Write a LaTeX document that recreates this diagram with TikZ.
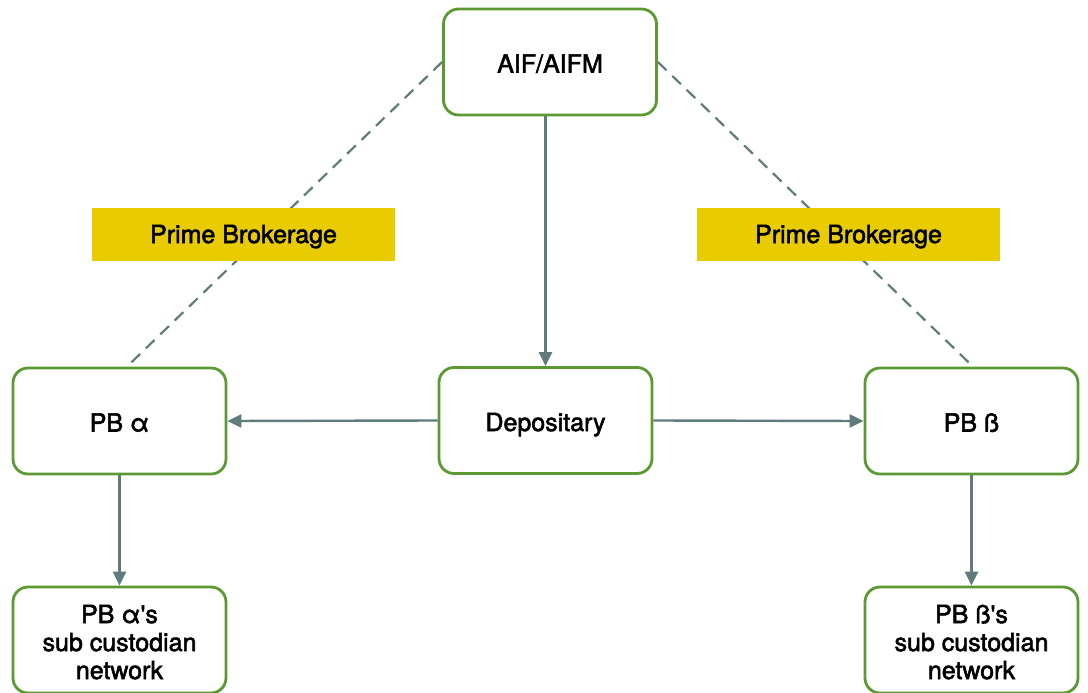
\documentclass[tikz,border=0pt]{standalone}
\usepackage{fontspec}
\setmainfont{TeX Gyre Heros}
\newfontfamily\medfont{TeX Gyre Heros}[FakeBold=2.2]
\usetikzlibrary{arrows.meta}
\definecolor{boxgreen}{HTML}{5B9A32}
\definecolor{arrowgray}{HTML}{5F7B7B}
\definecolor{pbyellow}{HTML}{E8CB00}
\newcommand{\topstrut}{\rule{0pt}{28pt}}
\newcommand{\botstrut}{\rule[-6pt]{0pt}{6pt}}
\begin{document}
\begin{tikzpicture}[x=1pt,y=-1pt,
  box/.style={draw=boxgreen,line width=2.8pt,rounded corners=15pt,fill=white,
    minimum width=213pt,minimum height=106pt,inner sep=0pt,align=center,
    font=\medfont\fontsize{25}{28}\selectfont},
  onebox/.style={box,text height=27pt,text depth=6pt},
  tag/.style={fill=pbyellow,minimum width=303pt,minimum height=53pt,inner sep=0pt,
    text height=23pt,text depth=6pt,
    font=\medfont\fontsize{25}{28}\selectfont},
  conn/.style={draw=arrowgray,line width=2.4pt,-{Triangle[length=14pt,width=13pt]}},
  dashconn/.style={draw=arrowgray,line width=2.2pt,dash pattern=on 12pt off 8pt}]
\useasboundingbox (0,0) rectangle (1088,693);
\node[onebox] (aif) at (550,62) {AIF/AIFM};
\node[onebox] (pba) at (119.5,421) {PB α};
\node[onebox] (dep) at (545.5,420.5) {Depositary};
\node[onebox] (pbb) at (971.5,421) {PB ß};
\node[box] (suba) at (119.5,640) {\topstrut PB α\textquotesingle s\\sub custodian\\network\botstrut};
\node[box] (subb) at (971.5,640) {\topstrut PB ß\textquotesingle s\\sub custodian\\network\botstrut};
\draw[dashconn] (aif.west) -- ([xshift=7.5pt]pba.north);
\draw[dashconn] (aif.east) -- ([xshift=1.5pt]pbb.north);
\node[tag] (tagl) at (243.5,234.5) {Prime Brokerage};
\node[tag] (tagr) at (848.5,234.5) {Prime Brokerage};
\draw[conn] (aif.south -| dep.north) -- (dep.north);
\draw[conn] (dep.west) -- (pba.east);
\draw[conn] (dep.east) -- (pbb.west);
\draw[conn] (pba.south) -- (suba.north);
\draw[conn] (pbb.south) -- (subb.north);
\end{tikzpicture}
\end{document}
